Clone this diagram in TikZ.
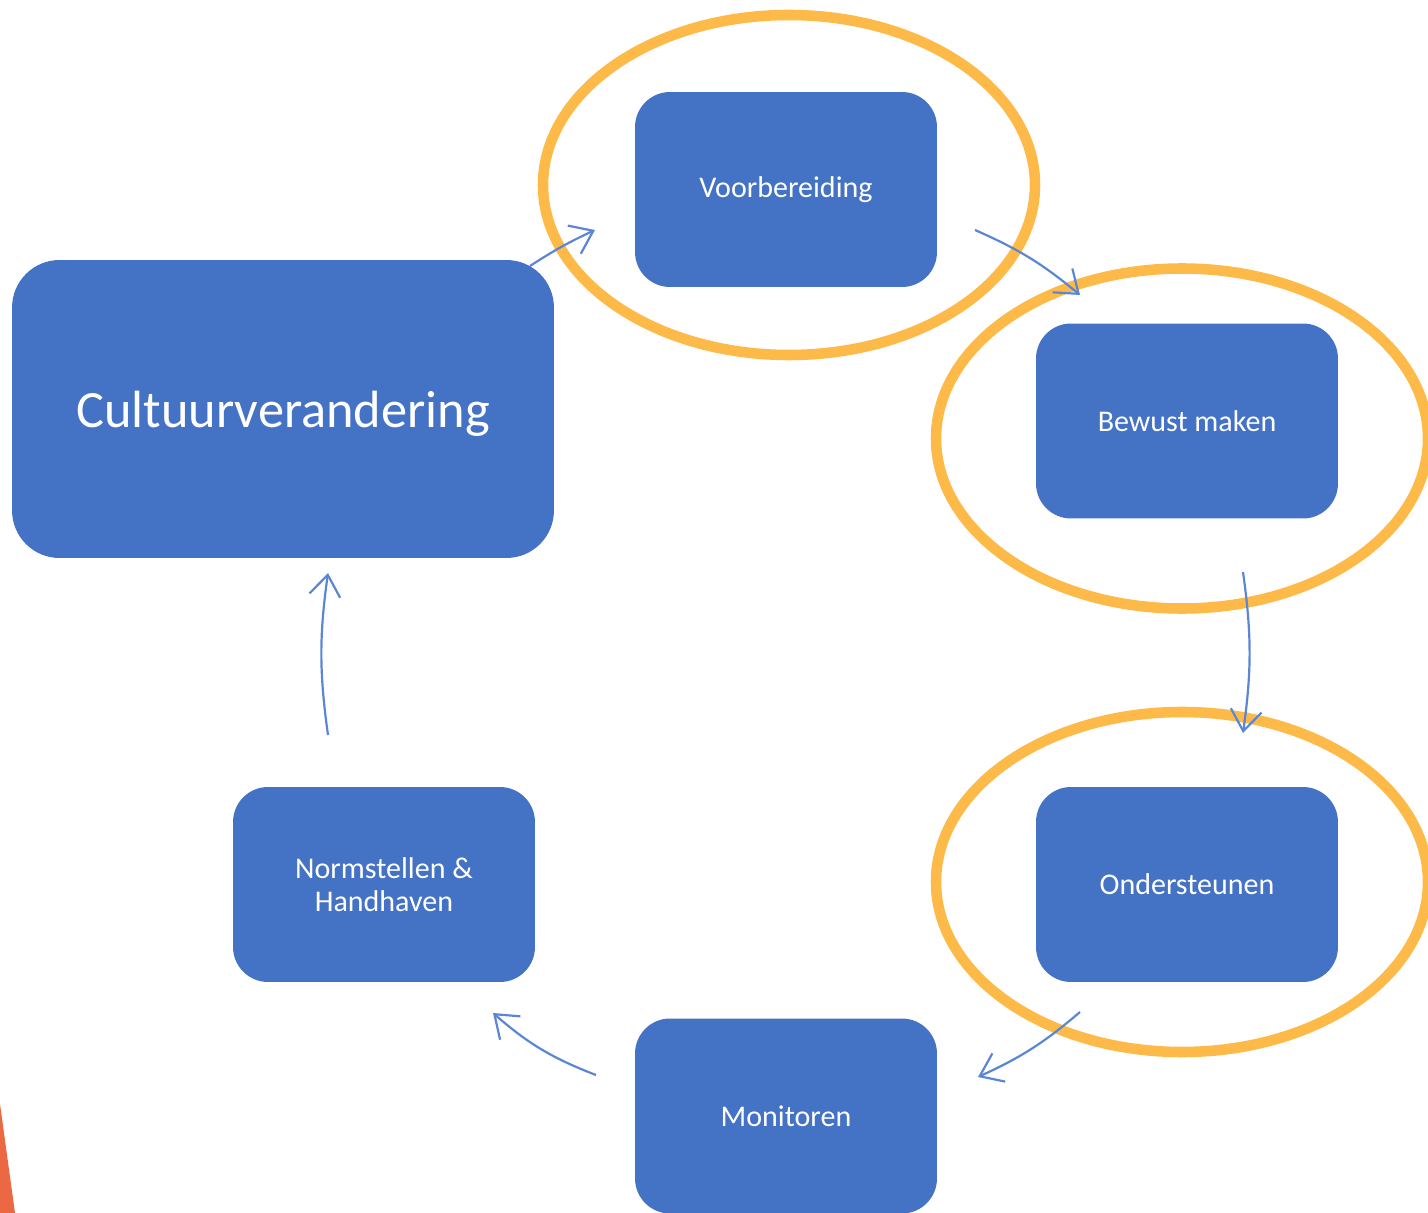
\documentclass[tikz,border=0pt]{standalone}
\usepackage{fontspec}
\setmainfont{Carlito}
\usetikzlibrary{arrows.meta}
\definecolor{boxblue}{HTML}{4472C4}
\definecolor{ringorange}{HTML}{FDBA49}
\definecolor{accentred}{HTML}{EC6842}
\definecolor{arrowblue}{HTML}{5B86D6}
\tikzset{
  stepbox/.style={rectangle, rounded corners=0.7cm, fill=boxblue, draw=none,
    minimum width=6.04cm, minimum height=3.9cm, inner sep=0pt,
    text=white, font=\fontsize{17.1}{18.8}\selectfont, align=center},
  bigbox/.style={rectangle, rounded corners=0.95cm, fill=boxblue, draw=none,
    minimum width=10.84cm, minimum height=5.96cm, inner sep=0pt,
    text height=0.76cm, text depth=0pt,
    text=white, font=\fontsize{29.8}{34}\selectfont},
  ring/.style={draw=ringorange, line width=6pt},
  flow/.style={draw=arrowblue, line width=1.25pt, -{Straight Barb[length=0.42cm,width=0.62cm,line width=1.25pt]}}
}
\begin{document}
\begin{tikzpicture}[x=0.02cm,y=-0.02cm]
\useasboundingbox (0,0) rectangle (1428,1213);
\clip (0,0) rectangle (1428,1213);
\fill[white] (0,0) rectangle (1428,1213);
% accent triangle
\fill[accentred] (0,1104) -- (15,1213) -- (0,1213) -- cycle;
% boxes
\node[bigbox] (cult) at (283,409) {Cultuurverandering};
\node[stepbox] (voor) at (786,189.5) {Voorbereiding};
\node[stepbox] (bew) at (1187,421) {Bewust maken};
\node[stepbox] (ond) at (1187,884.5) {Ondersteunen};
\node[stepbox] (mon) at (786,1116) {Monitoren};
\node[stepbox] (norm) at (384,884.5) {Normstellen \&\\Handhaven};
% rings
\draw[ring] (789,185) ellipse [x radius=246, y radius=170];
\draw[ring] (1182,438.5) ellipse [x radius=246, y radius=170];
\draw[ring] (1182,882) ellipse [x radius=246, y radius=170];
% arrow end points
\coordinate (a1s) at (530,266);
\coordinate (a1e) at (595,230);
\coordinate (a2s) at (975,230);
\coordinate (a2e) at (1080,295);
\coordinate (a3s) at (1243,572);
\coordinate (a3e) at (1243,733);
\coordinate (a4s) at (1080,1012);
\coordinate (a4e) at (978,1077);
\coordinate (a5s) at (596,1075);
\coordinate (a5e) at (493,1013);
\coordinate (a6s) at (328,735);
\coordinate (a6e) at (328,573);
% connectors
\draw[flow] (a1s) to[bend left=4] (a1e);
\draw[flow] (a2s) to[bend left=8] (a2e);
\draw[flow] (a3s) to[bend left=8] (a3e);
\draw[flow] (a4s) to[bend left=8] (a4e);
\draw[flow] (a5s) to[bend left=10] (a5e);
\draw[flow] (a6s) to[bend left=8] (a6e);
\end{tikzpicture}
\end{document}
